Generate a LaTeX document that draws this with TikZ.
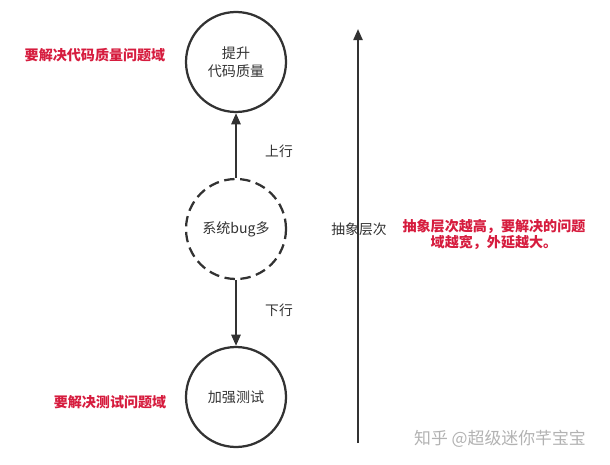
\documentclass[tikz,border=0pt]{standalone}
\usepackage{fontspec}
\setmainfont{Noto Sans CJK SC}
\usepackage{tikz}
\usetikzlibrary{arrows.meta, positioning}

\definecolor{notered}{RGB}{214,28,62}
\definecolor{inkgray}{RGB}{50,50,50}

\begin{document}
\begin{tikzpicture}[
    >={Triangle[length=2.8mm, width=2.3mm]},
    level/.style={circle, draw=inkgray, line width=1.6pt, minimum size=2.5cm,
      align=center, text=inkgray, font=\fontsize{10}{13}\selectfont},
    note/.style={text=notered, font=\bfseries\fontsize{10}{11}\selectfont, align=center},
    tag/.style={text=inkgray, font=\fontsize{9.8}{12}\selectfont},
    every node/.style={inner sep=1pt}
  ]
  \useasboundingbox (0,0) rectangle (15.25,11.6);

  % Levels
  \node[level] (quality) at (5.9,10.05) {提升\\代码质量};
  \node[level, dashed, dash pattern=on 2.6mm off 1.4mm] (bugs) at (5.9,5.875) {系统bug多};
  \node[level] (testing) at (5.9,1.675) {加强测试};

  % Arrows
  \draw[->, line width=1.5pt, inkgray] (bugs) -- (quality);
  \draw[->, line width=1.5pt, inkgray] (bugs) -- (testing);
  \node[tag] (up) at (6.975,7.825) {上行};
  \node[tag] (down) at (6.975,3.85) {下行};

  % Abstraction axis
  \coordinate (axisbot) at (8.95,0.525);
  \coordinate (axistop) at (8.95,10.875);
  \draw[->, line width=1.5pt, inkgray] (axisbot) -- (axistop);
  \node[tag] (axis) at (8.975,5.875) {抽象层次};

  % Notes
  \node[note] (qnote) at (2.375,10.225) {要解决代码质量问题域};
  \node[note] (tnote) at (2.75,1.55) {要解决测试问题域};
  \node[note] (anote) at (12.35,5.74) {抽象层次越高，要解决的问题\\域越宽，外延越大。};

  % Watermark
  \node[text=black!30, font=\fontsize{12}{14}\selectfont] (mark) at (12.5,0.625) {知乎 @超级迷你芊宝宝};
\end{tikzpicture}
\end{document}
